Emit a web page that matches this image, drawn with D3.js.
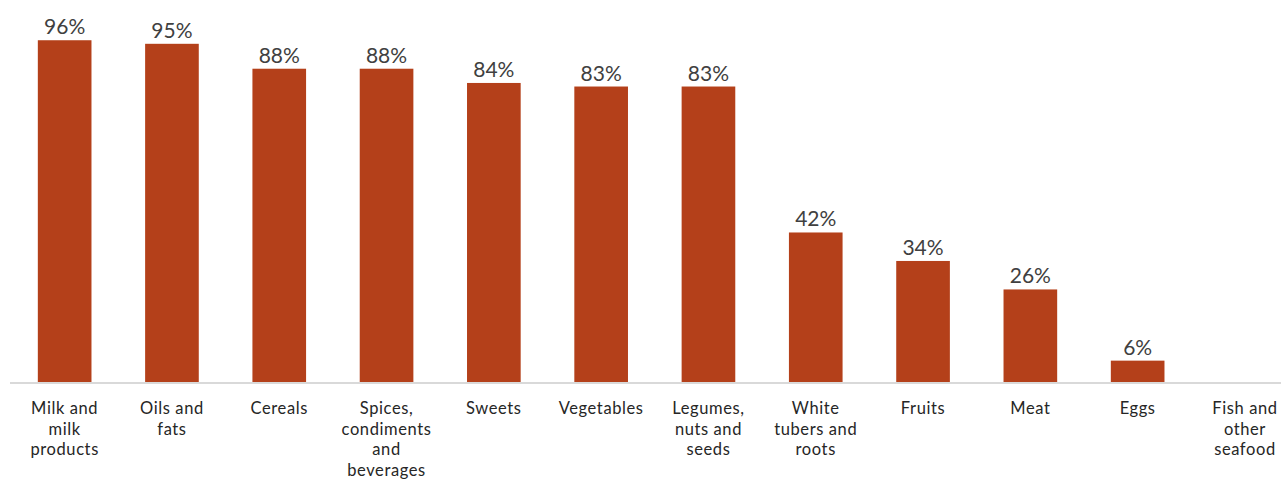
<!DOCTYPE html>
<html><head><meta charset="utf-8">
<script src="https://cdn.jsdelivr.net/npm/d3@7"></script>
<style>body{margin:0;background:#fff}svg{display:block}</style>
</head><body>
<svg id="chart" width="1281" height="481"></svg>
<script>
const categories = ["Milk and\nmilk\nproducts","Oils and\nfats","Cereals","Spices,\ncondiments\nand\nbeverages","Sweets","Vegetables","Legumes,\nnuts and\nseeds","White\ntubers and\nroots","Fruits","Meat","Eggs","Fish and\nother\nseafood"];
const values = [96,95,88,88,84,83,83,42,34,26,6,0];
const showLabel = [true,true,true,true,true,true,true,true,true,true,true,false];

const svg = d3.select("#chart");
const baseY = 382;
const x = d3.scaleBand().domain(categories).range([11, 1298.6]).paddingInner(0.5).paddingOuter(0.25);
const y = d3.scaleLinear().domain([0, 100]).range([baseY, baseY - 356]);

svg.append("line").attr("x1", 10).attr("x2", 1281).attr("y1", baseY + 1).attr("y2", baseY + 1)
  .attr("stroke", "#d9d9d9").attr("stroke-width", 2);

svg.selectAll("rect.bar").data(values).join("rect").attr("class","bar")
  .attr("x", (d,i) => x(categories[i])).attr("width", x.bandwidth())
  .attr("y", d => y(d)).attr("height", d => baseY - y(d))
  .attr("fill", "#B4401A");

svg.selectAll("text.val").data(values).join("text").attr("class","val")
  .filter((d,i) => showLabel[i])
  .attr("x", (d,i) => x(categories[i]) + x.bandwidth()/2)
  .attr("y", d => y(d) - 6)
  .attr("text-anchor", "middle")
  .attr("font-family", "Lato, sans-serif").attr("font-size", 21)
  .attr("fill", "#404040")
  .text(d => d + "%");

const lab = svg.selectAll("text.cat").data(categories).join("text").attr("class","cat")
  .attr("text-anchor", "middle")
  .attr("font-family", "Lato, sans-serif").attr("font-size", 16.5)
  .attr("letter-spacing", 0.6)
  .attr("fill", "#262626");
lab.each(function(d){
  const t = d3.select(this);
  const cx = x(d) + x.bandwidth()/2;
  d.split("\n").forEach((line, k) => {
    t.append("tspan").attr("x", cx).attr("y", 414 + k*20.5).text(line);
  });
});
</script>
</body></html>
